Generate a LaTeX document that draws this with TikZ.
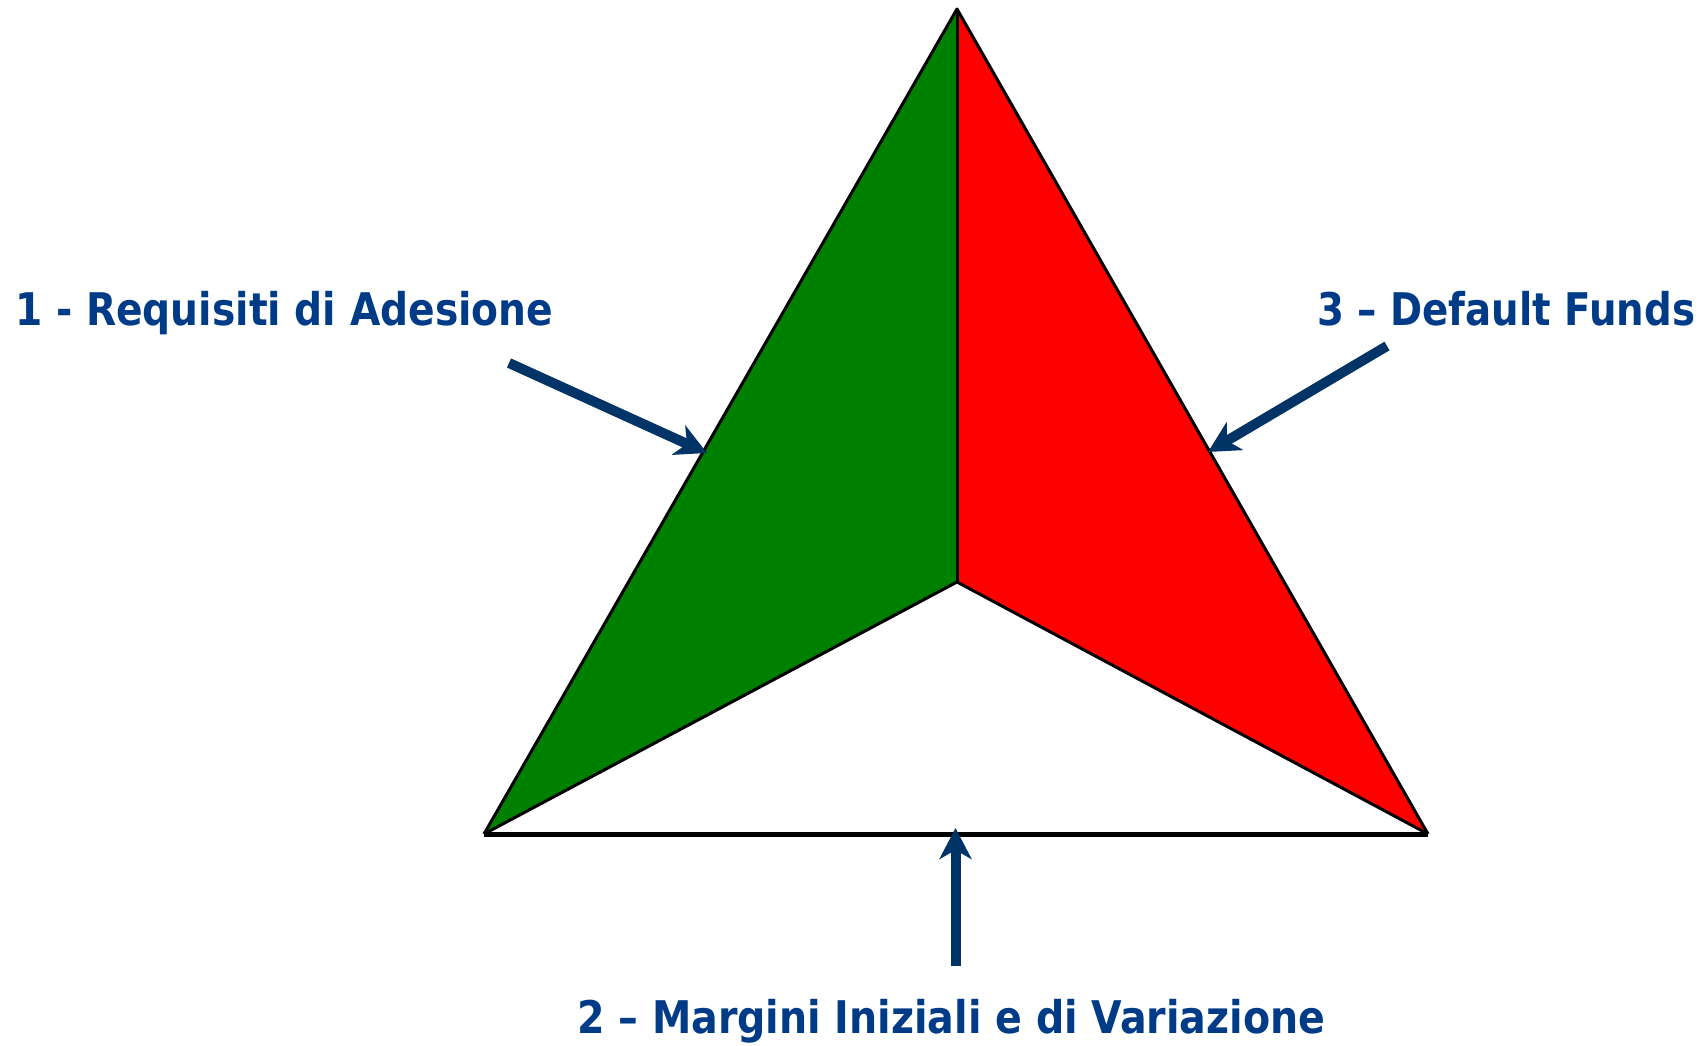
\documentclass[tikz,border=0pt]{standalone}
\usepackage{fontspec}
\setmainfont{DejaVu Sans}
\usetikzlibrary{arrows.meta}
\definecolor{txtblue}{RGB}{0,59,135}
\definecolor{arrblue}{RGB}{0,51,102}
\definecolor{lgreen}{RGB}{0,128,0}
\definecolor{lred}{RGB}{255,0,0}
\tikzset{
  label text/.style={inner sep=0pt, text=txtblue, font=\fontsize{45}{50}\selectfont\bfseries},
  pointer/.style={draw=arrblue, line width=10pt, -{Stealth[length=31pt,width=32pt,inset=9pt]}},
  edge line/.style={draw=black, line width=3pt, line join=round},
}
\begin{document}
\begin{tikzpicture}[x=1pt,y=-1pt]
\path[use as bounding box, fill=white] (0,0) rectangle (1706,1046);
\coordinate (top) at (957,9);
\coordinate (mid) at (957,582);
\coordinate (bl) at (484,834);
\coordinate (br) at (1428,834);
\fill[lgreen] (top) -- (mid) -- (bl) -- cycle;
\fill[lred] (top) -- (br) -- (mid) -- cycle;
\fill[white] (bl) -- (mid) -- (br) -- cycle;
\path[edge line] (bl) -- (top) -- (br);
\path[edge line] (top) -- (mid);
\path[edge line] (bl) -- (mid) -- (br);
\path[draw=black, line width=5pt] (bl) -- (br);
% labels
\node[label text, anchor=base west] (l1) at (15,325) {\resizebox{538pt}{\height}{1 - Requisiti di Adesione}};
\node[label text, anchor=base west] (l3) at (1317,325) {\resizebox{378pt}{\height}{3 – Default Funds}};
\node[label text, anchor=base west] (l2) at (577,1033) {\resizebox{748pt}{\height}{2 – Margini Iniziali e di Variazione}};
% arrows
\coordinate (a1s) at (509,363);
\coordinate (a1e) at (707,453);
\coordinate (a3s) at (1387,346);
\coordinate (a3e) at (1208,452);
\coordinate (a2s) at (955.5,966);
\coordinate (a2e) at (955.5,828);
\draw[pointer] (a1s) -- (a1e);
\draw[pointer] (a3s) -- (a3e);
\draw[pointer] (a2s) -- (a2e);
\end{tikzpicture}
\end{document}
